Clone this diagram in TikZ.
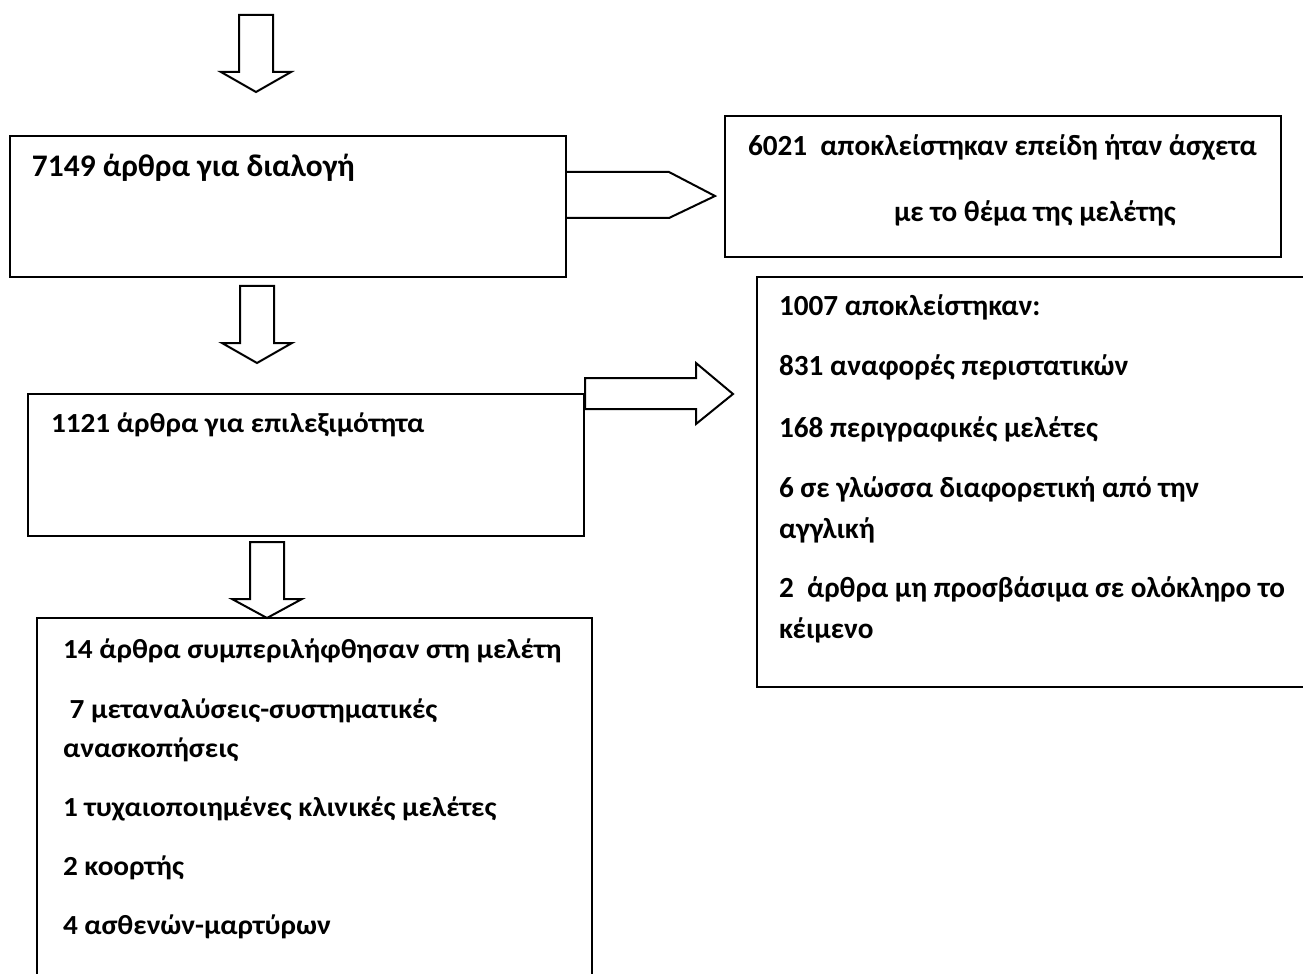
\documentclass[tikz,border=0pt]{standalone}
\usepackage{fontspec}
\setmainfont{Carlito}
\newfontfamily\ancha{Carlito}[FakeStretch=1.06]
\usetikzlibrary{calc}
\tikzstyle{every path}=[line width=1pt]
\tikzstyle{caja}=[draw, inner sep=0pt]
\tikzstyle{texto}=[anchor=west, inner sep=0pt, font=\fontsize{14.6}{17}\bfseries]
\tikzstyle{textoancho}=[anchor=west, inner sep=0pt, font=\fontsize{13.8}{16}\ancha\bfseries]

\begin{document}
\begin{tikzpicture}[x=0.5pt,y=-0.5pt]
        \useasboundingbox (0,0) rectangle (1303,974);
        %cajas
        \node[caja, minimum width=278pt, minimum height=70.5pt] (dialogi) at (288,206.5) {};
        \node[caja, minimum width=278pt, minimum height=70.5pt] (askheta) at (1003,186.5) {};
        \node[caja, minimum width=278pt, minimum height=71pt] (epilex) at (306,465) {};
        \node[caja, minimum width=281.5pt, minimum height=205pt] (apokl) at (1038.5,482) {};
        \node[caja, minimum width=277.5pt, minimum height=191pt] (meleti) at (314.5,809) {};
        %flechas hacia abajo
        \draw (256,92) -- ++(35,-20) -- ++(-18,0) -- ++(0,-57) -- ++(-34,0) -- ++(0,57) -- ++(-18,0) -- cycle;
        \draw (257,363) -- ++(35,-20) -- ++(-18,0) -- ++(0,-57) -- ++(-34,0) -- ++(0,57) -- ++(-18,0) -- cycle;
        \draw (267,618) -- ++(35,-19) -- ++(-18,0) -- ++(0,-57) -- ++(-34,0) -- ++(0,57) -- ++(-18,0) -- cycle;
        %flechas a la derecha
        \draw (dialogi.east |- 0,172) -- (669,172) -- (715,196) -- (669,218) -- (dialogi.east |- 0,218);
        \draw (epilex.east |- 0,378) -- (696,378) -- (696,363) -- (733,394) -- (696,424) -- (696,409) -- (epilex.east |- 0,409) -- cycle;
        %textos
        \node[texto, font=\fontsize{15.7}{18}\bfseries] (t1) at (31,168) {7149 άρθρα για διαλογή};
        \node[texto] (t2) at (747,148) {6021~ αποκλείστηκαν επείδη ήταν άσχετα};
        \node[texto] (t3) at (893,213) {με το θέμα της μελέτης};
        \node[textoancho] (t4) at (50,425) {1121 άρθρα για επιλεξιμότητα};
        \node[texto] (a1) at (778,307) {1007 αποκλείστηκαν:};
        \node[texto] (a2) at (778,367) {831 αναφορές περιστατικών};
        \node[texto] (a3) at (778,429) {168 περιγραφικές μελέτες};
        \node[texto] (a4) at (778,489) {6 σε γλώσσα διαφορετική από την};
        \node[texto] (a5) at (778,530) {αγγλική};
        \node[texto] (a6) at (778,589) {2~ άρθρα μη προσβάσιμα σε ολόκληρο το};
        \node[texto] (a7) at (778,630) {κέιμενο};
        \node[textoancho] (m1) at (62,651) {14 άρθρα συμπεριλήφθησαν στη μελέτη};
        \node[textoancho] (m2) at (62,711) {\ 7 μεταναλύσεις-συστηματικές};
        \node[textoancho] (m3) at (62,750) {ανασκοπήσεις};
        \node[textoancho] (m4) at (62,809) {1 τυχαιοποιημένες κλινικές μελέτες};
        \node[textoancho] (m5) at (62,868) {2 κοορτής};
        \node[textoancho] (m6) at (62,927) {4 ασθενών-μαρτύρων};
\end{tikzpicture}
\end{document}
